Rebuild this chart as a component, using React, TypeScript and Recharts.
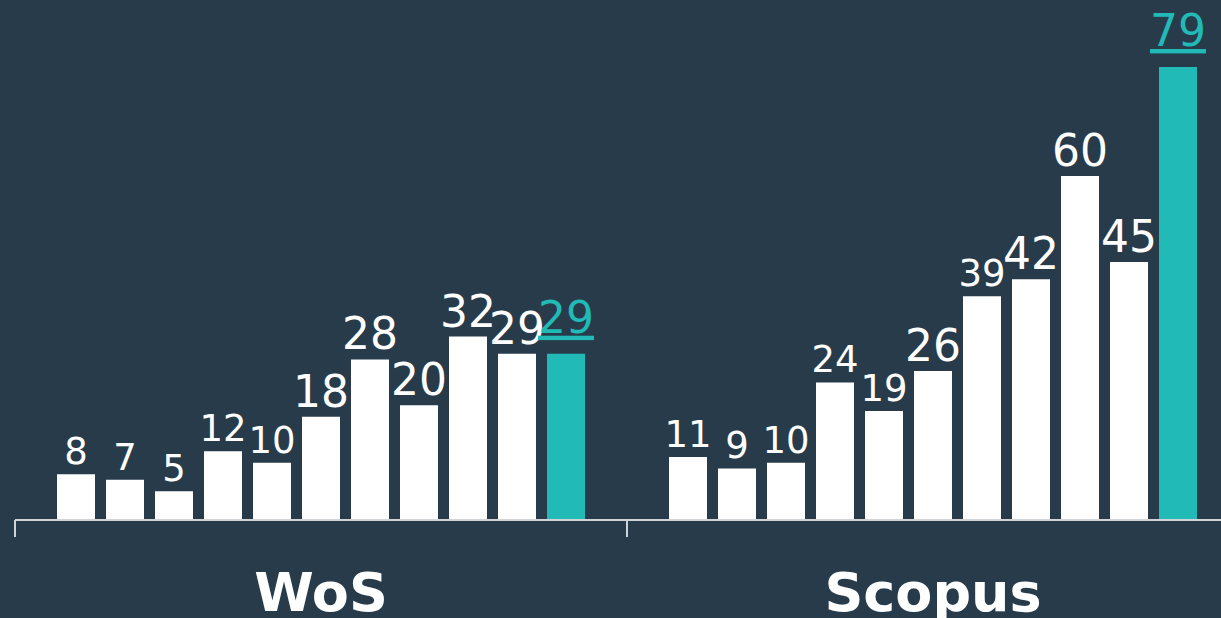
import React from 'react';
import { Bar, BarChart, LabelList, XAxis, YAxis } from 'recharts';

const categories = ['WoS', 'Scopus'];
const seriesNames = ['s1', 's2', 's3', 's4', 's5', 's6', 's7', 's8', 's9', 's10', 's11'];
const wosValues = [8, 7, 5, 12, 10, 18, 28, 20, 32, 29, 29];
const scopusValues = [11, 9, 10, 24, 19, 26, 39, 42, 60, 45, 79];

const BG = '#273b4b';
const WHITE = '#ffffff';
const TEAL = '#22bab6';
const AXIS = '#d0d4d8';
const FONT = '"DejaVu Sans", Verdana, sans-serif';

// label font sizes in the original differ per point (small vs large)
const labelSizes = [
  [37, 37, 37, 37, 37, 44, 44, 44, 44, 44, 44],
  [37, 37, 37, 37, 37, 44, 37, 44, 44, 44, 44],
];

const data = categories.map((name, i) => {
  const values = i === 0 ? wosValues : scopusValues;
  const row: Record<string, string | number> = { name };
  seriesNames.forEach((key, j) => {
    row[key] = values[j];
  });
  return row;
});

const makeLabel = (series: number, color: string, underline: boolean) => (props: any) => {
  const { x, y, width, value, index } = props;
  return (
    <text
      x={x + width / 2}
      y={y - (underline ? 21 : 10)}
      textAnchor='middle'
      fill={color}
      fontSize={labelSizes[index]?.[series] ?? 44}
      fontFamily={FONT}
      style={underline ? { textDecoration: 'underline' } : undefined}
    >
      {value}
    </text>
  );
};

const CategoryTick = (props: any) => {
  const { x, y, payload } = props;
  const left = x - (payload.offset ?? 0);
  return (
    <g>
      <line x1={left} y1={y - 17} x2={left} y2={y} stroke={AXIS} strokeWidth={2} />
      <text
        x={x}
        y={y + 74}
        textAnchor='middle'
        fill={WHITE}
        fontSize={54}
        fontWeight='bold'
        fontFamily={FONT}
      >
        {payload.value}
      </text>
    </g>
  );
};

export default function App() {
  return (
    <div
      style={{
        position: 'fixed',
        left: 0,
        top: 0,
        width: 1221,
        height: 618,
        overflow: 'hidden',
        background: BG,
      }}
    >
      <BarChart
        width={1239}
        height={618}
        data={data}
        margin={{ top: 67, right: 0, left: 15, bottom: 0 }}
        barSize={38}
        barGap={11}
      >
        <XAxis
          dataKey='name'
          height={98}
          axisLine={{ stroke: AXIS, strokeWidth: 2 }}
          tickLine={false}
          tickSize={17}
          tickMargin={0}
          interval={0}
          tick={<CategoryTick />}
        />
        <YAxis hide domain={[0, 'dataMax']} />
        {seriesNames.map((key, j) => {
          const last = j === seriesNames.length - 1;
          const color = last ? TEAL : WHITE;
          return (
            <Bar key={key} dataKey={key} fill={color} isAnimationActive={false}>
              <LabelList dataKey={key} content={makeLabel(j, color, last)} />
            </Bar>
          );
        })}
      </BarChart>
    </div>
  );
}
